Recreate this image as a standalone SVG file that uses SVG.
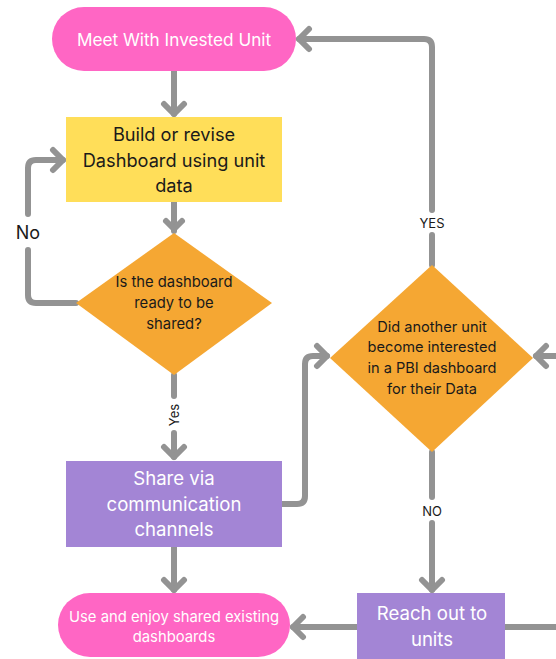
<svg xmlns="http://www.w3.org/2000/svg" width="556" height="659" viewBox="0 0 556 659">
<style>
text{font-family:Inter,"Noto Sans","Liberation Sans",sans-serif;text-anchor:middle;dominant-baseline:central}
.w{fill:#ffffff}
.b{fill:#1a1a1a}
.c{fill:none;stroke:#939393;stroke-width:6;stroke-linecap:round;stroke-linejoin:round}
.lbl{fill:#1a1a1a;font-size:13px}
</style>
<defs>
<marker id="ah" markerUnits="userSpaceOnUse" viewBox="-16 -16 20 32" markerWidth="20" markerHeight="32" refX="0" refY="0" orient="auto">
<path d="M-10,-10 L0,0 L-10,10" fill="none" stroke="#939393" stroke-width="6" stroke-linecap="round" stroke-linejoin="round"/>
</marker>
</defs>
<rect width="556" height="659" fill="#ffffff"/>
<g id="connectors">
<path class="c" d="M174,71 V114" marker-end="url(#ah)"/>
<path class="c" d="M174,202 V231"/>
<path class="c" d="M166,221 L174,229 L182,221"/>
<path class="c" d="M76,303 H36 Q28,303 28,295 V250"/>
<path class="c" d="M28,214 V168 Q28,160 36,160 H63" marker-end="url(#ah)"/>
<path class="c" d="M174,375 V396"/>
<path class="c" d="M174,433 V457" marker-end="url(#ah)"/>
<path class="c" d="M174,547 V590" marker-end="url(#ah)"/>
<path class="c" d="M282,504 H297 Q305,504 305,496 V364 Q305,356 313,356 H327" marker-end="url(#ah)"/>
<path class="c" d="M556,356 H536" marker-end="url(#ah)"/>
<path class="c" d="M432,265 V235"/>
<path class="c" d="M432,210 V47 Q432,39 424,39 H299" marker-end="url(#ah)"/>
<path class="c" d="M432,452 V497"/>
<path class="c" d="M432,523 V590" marker-end="url(#ah)"/>
<path class="c" d="M357,627 H293" marker-end="url(#ah)"/>
<path class="c" d="M505,627 H556"/>
<text class="b" x="28" y="232" font-size="18">No</text>
<text class="lbl" x="174" y="415" transform="rotate(-90 174 415)">Yes</text>
<text class="lbl" x="432" y="223">YES</text>
<text class="lbl" x="432" y="511">NO</text>
</g>
<g id="meet">
<rect x="52" y="7" width="244" height="64" rx="32" fill="#FF66C4"/>
<text class="w" x="174" y="39" font-size="17.2">Meet With Invested Unit</text>
</g>
<g id="build">
<rect x="66" y="117" width="216" height="85" fill="#FFDE59"/>
<text class="b" font-size="18.2"><tspan x="174" y="134">Build or revise</tspan><tspan x="174" y="160">Dashboard using unit</tspan><tspan x="174" y="185">data</tspan></text>
</g>
<g id="ready">
<polygon points="174,233 272,303 174,375 76,303" fill="#F5A733"/>
<text class="b" font-size="14.8"><tspan x="174" y="282">Is the dashboard</tspan><tspan x="174" y="303">ready to be</tspan><tspan x="174" y="324">shared?</tspan></text>
</g>
<g id="share">
<rect x="66" y="461" width="216" height="86" fill="#A385D5"/>
<text class="w" font-size="18.6"><tspan x="174" y="478">Share via</tspan><tspan x="174" y="504">communication</tspan><tspan x="174" y="529">channels</tspan></text>
</g>
<g id="use">
<rect x="58" y="593" width="232" height="64" rx="32" fill="#FF66C4"/>
<text class="w" font-size="14.8"><tspan x="174" y="617">Use and enjoy shared existing</tspan><tspan x="174" y="637">dashboards</tspan></text>
</g>
<g id="interested">
<polygon points="432,265 533,358 432,452 330,358" fill="#F5A733"/>
<text class="b" font-size="14.6"><tspan x="432" y="327">Did another unit</tspan><tspan x="432" y="347">become interested</tspan><tspan x="432" y="368">in a PBI dashboard</tspan><tspan x="432" y="389">for their Data</tspan></text>
</g>
<g id="reach">
<rect x="357" y="593" width="148" height="80" fill="#A385D5"/>
<text class="w" font-size="18.6"><tspan x="432" y="613">Reach out to</tspan><tspan x="432" y="639">units</tspan></text>
</g>
</svg>
